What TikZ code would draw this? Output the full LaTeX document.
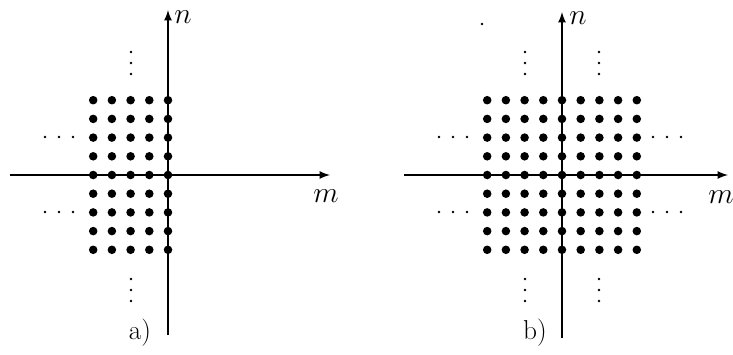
\documentclass[tikz,border=0pt]{standalone}
\begin{document}
\begin{tikzpicture}[
        x=0.585pt, y=-0.585pt,
        gridDot/.style={circle, fill, inner sep=0pt, minimum size=5pt},
        ellDot/.style={circle, fill, inner sep=0pt, minimum size=1.6pt},
        axis/.style={line width=1.1pt, ->, >=latex},
        axisLabel/.style={inner sep=0pt, font=\fontsize{16}{19}\selectfont}
    ]
        \useasboundingbox (0,0) rectangle (733,354);

        % a) left half of the lattice
        \begin{scope}[shift={(168,175)}]
            \foreach \i in {-4,...,0}
                \foreach \j in {-4,...,4}
                    \node[gridDot] (a\i\j) at (18.7*\i, 18.7*\j) {};
            \foreach \d in {-11,0,11} {
                \node[ellDot] at (-37, -112+\d) {};
                \node[ellDot] at (-37, 115+\d) {};
            }
            \foreach \d in {-14,0,14} {
                \node[ellDot] at (-109+\d, -38) {};
                \node[ellDot] at (-109+\d, 37) {};
            }
            \coordinate (aLeft) at (-158,0);
            \coordinate (aRight) at (162,0);
            \coordinate (aBottom) at (0,160);
            \coordinate (aTop) at (0,-165);
        \end{scope}
        \draw[axis] (aLeft) -- (aRight);
        \draw[axis] (aBottom) -- (aTop);
        \node[axisLabel] (aN) at (183,17) {$n$};
        \node[axisLabel] (aM) at (326,196) {$m$};
        \node[axisLabel] (aLabel) at (140,333) {a)};

        % b) full lattice
        \begin{scope}[shift={(562,175)}]
            \foreach \i in {-4,...,4}
                \foreach \j in {-4,...,4}
                    \node[gridDot] (b\i\j) at (18.7*\i, 18.7*\j) {};
            \foreach \d in {-11,0,11} {
                \node[ellDot] at (-37, -112+\d) {};
                \node[ellDot] at (-37, 115+\d) {};
                \node[ellDot] at (37, -112+\d) {};
                \node[ellDot] at (37, 115+\d) {};
            }
            \foreach \d in {-14,0,14} {
                \node[ellDot] at (-109+\d, -38) {};
                \node[ellDot] at (-109+\d, 37) {};
                \node[ellDot] at (105+\d, -38) {};
                \node[ellDot] at (105+\d, 37) {};
            }
            \coordinate (bLeft) at (-158,0);
            \coordinate (bRight) at (166,0);
            \coordinate (bBottom) at (0,163);
            \coordinate (bTop) at (0,-163);
        \end{scope}
        \draw[axis] (bLeft) -- (bRight);
        \draw[axis] (bBottom) -- (bTop);
        \node[ellDot] (stray) at (482,24) {};
        \node[axisLabel] (bN) at (578,18) {$n$};
        \node[axisLabel] (bM) at (721,197) {$m$};
        \node[axisLabel] (bLabel) at (535,333) {b)};
    \end{tikzpicture}
\end{document}
